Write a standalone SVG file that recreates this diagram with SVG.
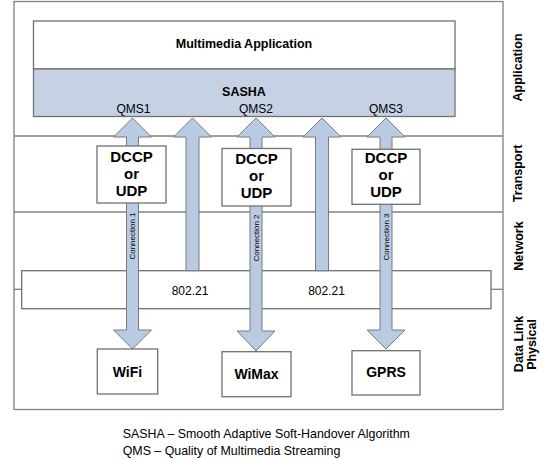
<svg xmlns="http://www.w3.org/2000/svg" width="551" height="460" viewBox="0 0 551 460">
<style>
.ln{fill:none;stroke:#808080;stroke-width:1.3}
.bx{fill:#fff;stroke:#707070;stroke-width:1.3}
.arr{fill:#b9cbe3;stroke:#7a7a7a;stroke-width:1}
.b{font-family:"Liberation Sans",Arial,sans-serif;font-weight:bold;fill:#000}
.r{font-family:"Liberation Sans",Arial,sans-serif;fill:#000}
.m{text-anchor:middle}
</style>
<rect width="551" height="460" fill="#fff"/>
<g id="frame">
<rect class="ln" x="14" y="1.5" width="489" height="408"/>
<line class="ln" x1="14" y1="136" x2="503" y2="136"/>
<line class="ln" x1="14" y1="212" x2="503" y2="212"/>
<line class="ln" x1="14" y1="289.3" x2="21.7" y2="289.3"/>
<line class="ln" x1="491" y1="289.3" x2="503" y2="289.3"/>
</g>
<g id="ieee80221">
<rect class="bx" x="21.7" y="270.7" width="469.3" height="38"/>
<text class="r m" x="190" y="295" font-size="12">802.21</text>
<text class="r m" x="326.5" y="295" font-size="12">802.21</text>
</g>
<g id="app">
<rect class="bx" x="33.5" y="21" width="421.5" height="48"/>
<text class="b m" x="244" y="47.7" font-size="12.5">Multimedia Application</text>
</g>
<g id="sasha">
<rect x="33.5" y="69" width="421.5" height="47.5" fill="#c6d2e4" stroke="#707070" stroke-width="1.3"/>
<text class="b m" x="244" y="96" font-size="12.5">SASHA</text>
<text class="r m" x="133.5" y="112.7" font-size="12">QMS1</text>
<text class="r m" x="256" y="112.7" font-size="12">QMS2</text>
<text class="r m" x="386" y="112.7" font-size="12">QMS3</text>
</g>
<g id="connectors">
<polygon class="arr" points="132.5,118 151.5,137 138.5,137 138.5,330 151.5,330 132.5,349 113.5,330 126.5,330 126.5,137 113.5,137"/>
<polygon class="arr" points="192.5,118 211.5,137 199,137 199,270.7 186,270.7 186,137 173.5,137"/>
<polygon class="arr" points="256,118 275,137 262,137 262,331 275,331 256,351 237,331 250,331 250,137 237,137"/>
<polygon class="arr" points="322,118 341,137 328.5,137 328.5,270.7 315.5,270.7 315.5,137 303,137"/>
<polygon class="arr" points="386,118 405,137 392,137 392,330 405,330 386,349 367,330 380,330 380,137 367,137"/>
<text class="r m" font-size="8" transform="translate(135,236) rotate(-90)">Connection 1</text>
<text class="r m" font-size="8" transform="translate(258.5,238) rotate(-90)">Connection 2</text>
<text class="r m" font-size="8" transform="translate(388.5,237) rotate(-90)">Connection 3</text>
</g>
<g id="dccp1">
<rect class="bx" x="97" y="146" width="69" height="57"/>
<text class="b m" x="131.5" y="161.5" font-size="15">DCCP</text>
<text class="b m" x="131.5" y="178.5" font-size="15">or</text>
<text class="b m" x="131.5" y="195.5" font-size="15">UDP</text>
</g>
<g id="dccp2">
<rect class="bx" x="222" y="148.5" width="69" height="57.5"/>
<text class="b m" x="256.5" y="163.5" font-size="15">DCCP</text>
<text class="b m" x="256.5" y="180.5" font-size="15">or</text>
<text class="b m" x="256.5" y="197.5" font-size="15">UDP</text>
</g>
<g id="dccp3">
<rect class="bx" x="352" y="149.3" width="68" height="55"/>
<text class="b m" x="386" y="163" font-size="15">DCCP</text>
<text class="b m" x="386" y="180" font-size="15">or</text>
<text class="b m" x="386" y="197" font-size="15">UDP</text>
</g>
<g id="wifi">
<rect class="bx" x="97.3" y="349" width="60.4" height="45"/>
<text class="b m" x="127.5" y="376.5" font-size="14">WiFi</text>
</g>
<g id="wimax">
<rect class="bx" x="222" y="351.7" width="69" height="45"/>
<text class="b m" x="256.5" y="379" font-size="14">WiMax</text>
</g>
<g id="gprs">
<rect class="bx" x="352" y="350.7" width="68" height="44.3"/>
<text class="b m" x="386" y="377.3" font-size="14">GPRS</text>
</g>
<g id="layers">
<text class="b m" font-size="12.5" transform="translate(522,67.5) rotate(-90)">Application</text>
<text class="b m" font-size="12.5" transform="translate(522,173.3) rotate(-90)">Transport</text>
<text class="b m" font-size="12.5" transform="translate(522.5,246) rotate(-90)">Network</text>
<text class="b m" font-size="12.5" transform="translate(523,344) rotate(-90)">Data Link</text>
<text class="b m" font-size="12.5" transform="translate(536,344.5) rotate(-90)">Physical</text>
</g>
<g id="legend">
<text class="r" x="122.7" y="438" font-size="12.4">SASHA – Smooth Adaptive Soft-Handover Algorithm</text>
<text class="r" x="122.7" y="455" font-size="12.4">QMS – Quality of Multimedia Streaming</text>
</g>
</svg>
